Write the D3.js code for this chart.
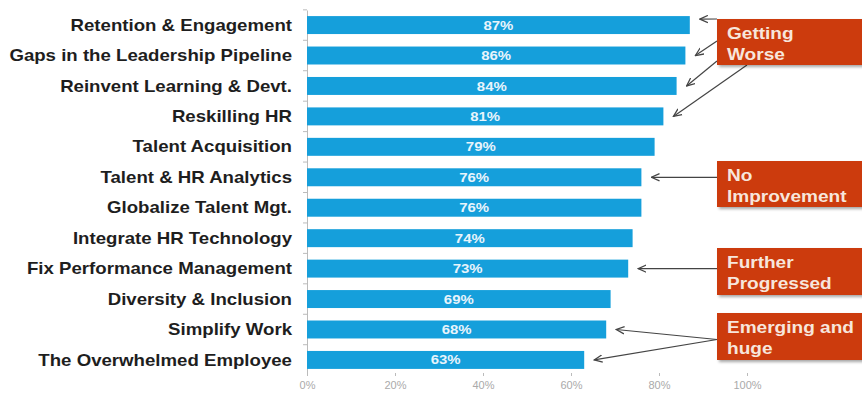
<!DOCTYPE html>
<html>
<head>
<meta charset="utf-8">
<script src="https://cdn.jsdelivr.net/npm/d3@7"></script>
<style>
  body { margin: 0; background: #fff; }
  svg { display: block; font-family: "Liberation Sans", Arial, sans-serif; }
</style>
</head>
<body>
<div id="main"></div>
<script>
const width = 862, height = 394;

// data
const categories = [
  "Retention & Engagement",
  "Gaps in the Leadership Pipeline",
  "Reinvent Learning & Devt.",
  "Reskilling HR",
  "Talent Acquisition",
  "Talent & HR Analytics",
  "Globalize Talent Mgt.",
  "Integrate HR Technology",
  "Fix Performance Management",
  "Diversity & Inclusion",
  "Simplify Work",
  "The Overwhelmed Employee"
];
const values = [0.87, 0.86, 0.84, 0.81, 0.79, 0.76, 0.76, 0.74, 0.73, 0.69, 0.68, 0.63];
const xTicks = [0, 0.2, 0.4, 0.6, 0.8, 1.0];

// callouts: label lines, box top/bottom, arrow targets (category index)
const callouts = [
  { lines: ["Getting", "Worse"], top: 19, bottom: 65, targets: [0, 1, 2, 3] },
  { lines: ["No", "Improvement"], top: 161, bottom: 207, targets: [5] },
  { lines: ["Further", "Progressed"], top: 248, bottom: 295, targets: [8] },
  { lines: ["Emerging and", "huge"], top: 313, bottom: 360, targets: [10, 11] }
];

const svg = d3.select("#main").append("svg")
  .attr("width", width)
  .attr("height", height);

const x = d3.scaleLinear().domain([0, 1]).range([307, 747]);
const y = d3.scaleBand().domain(categories).range([10, 375]).paddingInner(0.41).paddingOuter(0.2);

// arrow marker (open V)
const defs = svg.append("defs");
defs.append("marker")
  .attr("id", "arr")
  .attr("viewBox", "0 0 10 10")
  .attr("refX", 9).attr("refY", 5)
  .attr("markerWidth", 9).attr("markerHeight", 9)
  .attr("markerUnits", "userSpaceOnUse")
  .attr("orient", "auto")
  .append("path")
  .attr("d", "M0,1 L9,5 L0,9")
  .attr("fill", "none")
  .attr("stroke", "#444")
  .attr("stroke-width", 1.4);

const shadow = defs.append("filter").attr("id", "sh")
  .attr("x", "-10%").attr("y", "-10%").attr("width", "130%").attr("height", "140%");
shadow.append("feDropShadow").attr("dx", 2).attr("dy", 2).attr("stdDeviation", 1.5)
  .attr("flood-color", "#000").attr("flood-opacity", 0.35);

// left axis
const yAxis = svg.append("g")
  .attr("transform", "translate(" + x(0) + ",0)")
  .call(d3.axisLeft(y).tickSize(0).tickFormat(""));
yAxis.select(".domain").attr("stroke", "#bbb");
const step = y.step();
categories.forEach(function(c, i) {
  const yy = y(c) - (step - y.bandwidth()) / 2;
  yAxis.append("line").attr("x1", -4).attr("x2", 0).attr("y1", yy).attr("y2", yy).attr("stroke", "#bbb");
});

// bottom axis
const xAxis = svg.append("g")
  .attr("transform", "translate(0,373)")
  .call(d3.axisBottom(x).tickValues(xTicks).tickFormat(d3.format(".0%")).tickSize(3).tickPadding(5));
xAxis.select(".domain").remove();
xAxis.selectAll(".tick line").attr("stroke", "#bbb");
xAxis.selectAll(".tick text").attr("fill", "#aaa").attr("font-size", 11);

// category labels (source image is slightly stretched horizontally)
svg.append("g")
  .attr("transform", "translate(292,0) scale(1.165,1)")
  .selectAll("text")
  .data(categories)
  .join("text")
  .attr("x", 0)
  .attr("y", d => y(d) + y.bandwidth() / 2)
  .attr("dy", "0.35em")
  .attr("text-anchor", "end")
  .attr("font-size", 16)
  .attr("font-weight", "bold")
  .attr("fill", "#1e1e1e")
  .text(d => d);

// bars
svg.append("g").selectAll("rect")
  .data(values)
  .join("rect")
  .attr("x", x(0))
  .attr("y", (d, i) => y(categories[i]))
  .attr("width", d => x(d) - x(0))
  .attr("height", y.bandwidth())
  .attr("fill", "#159fdb");

svg.append("g").selectAll("text")
  .data(values)
  .join("text")
  .attr("transform", (d, i) => "translate(" + (x(0) + x(d)) / 2 + "," + (y(categories[i]) + y.bandwidth() / 2) + ") scale(1.15,1)")
  .attr("dy", "0.35em")
  .attr("text-anchor", "middle")
  .attr("font-size", 13)
  .attr("font-weight", "bold")
  .attr("fill", "#e8f4fb")
  .text(d => d3.format(".0%")(d));

// callouts
const boxX = 717;
callouts.forEach(function(c) {
  // arrows
  c.targets.forEach(function(t, k) {
    const ty = y(categories[t]) + y.bandwidth() / 2;
    const tx = x(values[t]) + 10;
    let sx = boxX, sy;
    if (c.targets.length === 4) {
      sy = [c.top, c.top + 22, c.top + 42, c.bottom][k];
      if (k === 3) sx = boxX + 30;
    } else if (c.targets.length === 2) {
      sy = (c.top + c.bottom) / 2 + 3;
    } else {
      sy = ty;
    }
    svg.append("line")
      .attr("x1", sx).attr("y1", sy)
      .attr("x2", tx).attr("y2", t === 0 ? ty - 6 : ty)
      .attr("stroke", "#444")
      .attr("stroke-width", 1.2)
      .attr("marker-end", "url(#arr)");
  });

  svg.append("rect")
    .attr("x", boxX).attr("y", c.top)
    .attr("width", width - boxX + 10).attr("height", c.bottom - c.top)
    .attr("fill", "#cc3a10")
    .attr("filter", "url(#sh)");

  c.lines.forEach(function(l, j) {
    svg.append("text")
      .attr("transform", "translate(727," + (c.top + 14 + j * 21) + ") scale(1.19,1)")
      .attr("dy", "0.35em")
      .attr("font-size", 16)
      .attr("font-weight", "bold")
      .attr("fill", "#f7e6dc")
      .text(l);
  });
});
</script>
</body>
</html>
